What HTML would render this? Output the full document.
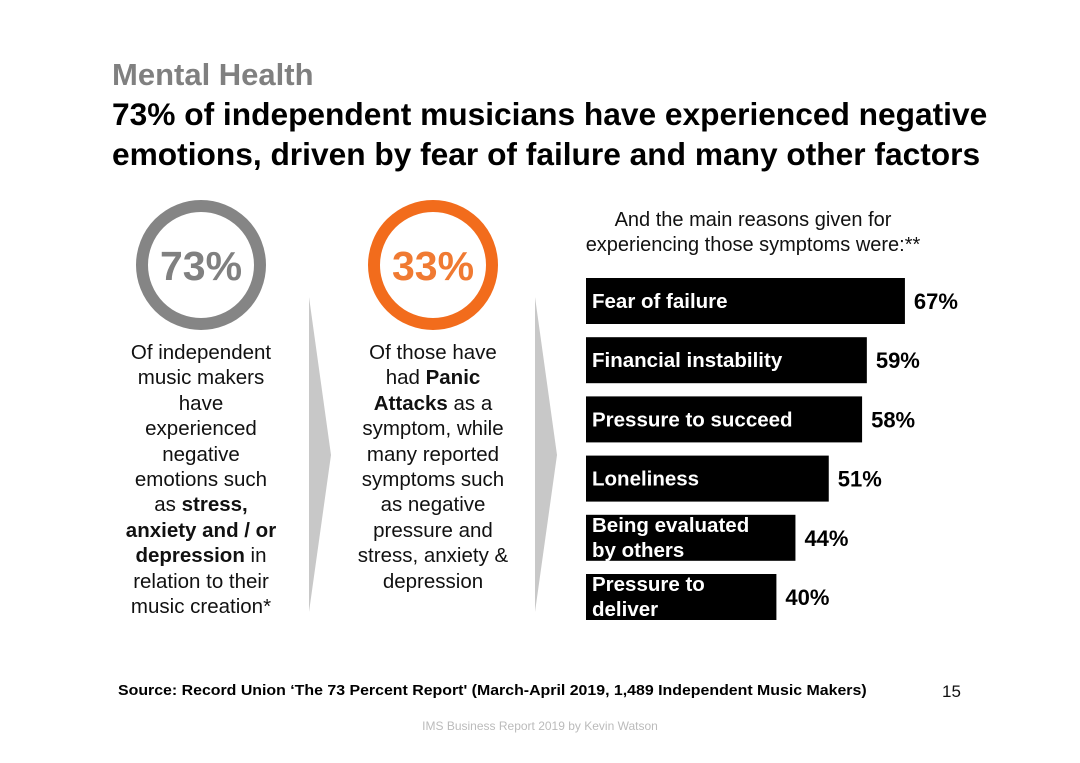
<!DOCTYPE html>
<html><head><meta charset="utf-8">
<style>
body{margin:0;background:#fff;}
#page{position:relative;width:1080px;height:763px;background:#fff;font-family:"Liberation Sans",Arial,sans-serif;overflow:hidden;}
.abs{position:absolute;}
.col{position:absolute;text-align:center;font-size:20.5px;line-height:25.4px;color:#111;white-space:nowrap;}
.src{position:absolute;left:118px;top:682px;font-size:15px;font-weight:bold;white-space:nowrap;transform-origin:left top;transform:scaleX(1.06);color:#000;}
</style></head>
<body>
<div id="page">
<div class="abs" style="left:112px;top:57px;font-size:31px;font-weight:bold;color:#808080;">Mental Health</div>
<div class="abs" style="left:112px;top:94px;font-size:31.7px;font-weight:bold;line-height:40px;color:#000;white-space:nowrap;">73% of independent musicians have experienced negative<br>emotions, driven by fear of failure and many other factors</div>

<svg class="abs" style="left:0;top:0" width="1080" height="763">
<circle cx="201" cy="265" r="59" fill="none" stroke="#858585" stroke-width="12"/>
<text x="201" y="280" text-anchor="middle" font-size="41" font-weight="bold" fill="#808080" font-family="Liberation Sans">73%</text>
<circle cx="433" cy="265" r="59" fill="none" stroke="#f26c1c" stroke-width="12"/>
<text x="433" y="280" text-anchor="middle" font-size="41" font-weight="bold" fill="#f07a32" font-family="Liberation Sans">33%</text>
<polygon points="309,297 331,455 309,612" fill="#c8c8c8"/>
<polygon points="535,297 557,455 535,612" fill="#c8c8c8"/>
<g id="bars"></g>
</svg>

<div class="col" style="left:91px;top:340px;width:220px;">Of independent<br>music makers<br>have<br>experienced<br>negative<br>emotions such<br>as <b>stress,</b><br><b>anxiety and / or</b><br><b>depression</b> in<br>relation to their<br>music creation*</div>
<div class="col" style="left:323px;top:340px;width:220px;">Of those have<br>had <b>Panic</b><br><b>Attacks</b> as a<br>symptom, while<br>many reported<br>symptoms such<br>as negative<br>pressure and<br>stress, anxiety &amp;<br>depression</div>
<div class="abs" style="left:553px;top:208px;width:400px;text-align:center;font-size:20px;line-height:25px;color:#111;">And the main reasons given for<br>experiencing those symptoms were:**</div>

<div class="src">Source: Record Union ‘The 73 Percent Report' (March-April 2019, 1,489 Independent Music Makers)</div>
<div class="abs" style="left:942px;top:682px;font-size:17px;color:#111;">15</div>
<div class="abs" style="left:0;width:1080px;top:719px;text-align:center;font-size:12px;color:#bbb;">IMS Business Report 2019 by Kevin Watson</div>
</div>
<script>
const categories=[["Fear of failure"],["Financial instability"],["Pressure to succeed"],["Loneliness"],["Being evaluated","by others"],["Pressure to","deliver"]];
const values=[67,59,58,51,44,40];
const valueLabels=["67%","59%","58%","51%","44%","40%"];
const NS="http://www.w3.org/2000/svg";
const g=document.getElementById('bars');
const x0=586,k=4.76,top0=278,step=59.2,bh=46;
function xs(v){return v*k;}
function ys(i){return top0+i*step;}
categories.forEach((c,i)=>{
  const y=ys(i),w=xs(values[i]);
  const r=document.createElementNS(NS,'rect');
  
  
  r.setAttribute('x',x0);r.setAttribute('y',y);r.setAttribute('width',w);r.setAttribute('height',bh);r.setAttribute('fill','#000');
  g.appendChild(r);
  c.forEach((line,j)=>{
    const t=document.createElementNS(NS,'text');
    
    
    const yy=c.length==1? y+bh/2+7 : y+17+j*25;
    t.setAttribute('x',x0+6);t.setAttribute('y',yy);
    t.setAttribute('fill','#fff');t.setAttribute('font-size','20.5');t.setAttribute('font-weight','bold');t.setAttribute('font-family','Liberation Sans');
    t.textContent=line;g.appendChild(t);
  });
  const v=document.createElementNS(NS,'text');
  
  
  v.setAttribute('x',x0+w+9);v.setAttribute('y',y+bh/2+8);
  v.setAttribute('fill','#000');v.setAttribute('font-size','22');v.setAttribute('font-weight','bold');v.setAttribute('font-family','Liberation Sans');
  v.textContent=valueLabels[i];g.appendChild(v);
});
</script>
</body></html>
